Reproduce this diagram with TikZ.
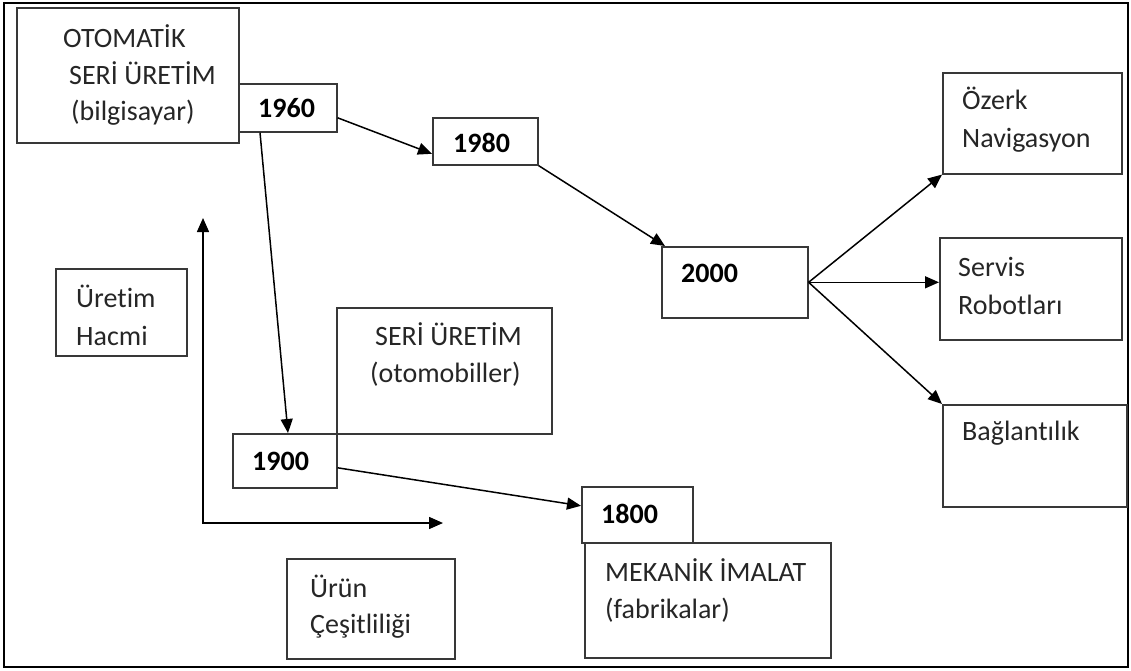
\documentclass[tikz,border=0pt]{standalone}
\usepackage{fontspec}
\setmainfont{Carlito}[Ligatures=NoCommon]
\usetikzlibrary{arrows.meta}
\begin{document}
\begin{tikzpicture}[x=1pt,y=-1pt,
  box/.style={draw=black!78, line width=1.6pt, fill=white, inner sep=0pt},
  txt/.style={anchor=base west, inner sep=0pt, text=black!85,
    font=\fontsize{28}{37}\selectfont},
  yr/.style={anchor=base west, inner sep=0pt, text=black,
    font=\fontsize{28}{37}\selectfont\bfseries},
  tip/.tip={Triangle[length=14pt,width=12pt]},
  arr/.style={draw=black, line width=1.5pt, -tip},
]
\useasboundingbox (0,0) rectangle (1131,671);
\draw[line width=2.5pt] (4,3) rectangle (1128,667);
% boxes
\node[box, anchor=north west, minimum width=98pt, minimum height=48pt] (b1960) at (238,83) {};
\node[box, anchor=north west, minimum width=222pt, minimum height=135pt] (oto) at (16,7) {};
\node[box, anchor=north west, minimum width=105pt, minimum height=47pt] (b1980) at (432,117) {};
\node[box, anchor=north west, minimum width=146pt, minimum height=71pt] (b2000) at (661,246) {};
\node[box, anchor=north west, minimum width=179pt, minimum height=101pt] (ozerk) at (942,72) {};
\node[box, anchor=north west, minimum width=182pt, minimum height=102pt] (servis) at (939,237) {};
\node[box, anchor=north west, minimum width=184pt, minimum height=102pt] (bag) at (942,404) {};
\node[box, anchor=north west, minimum width=131pt, minimum height=87pt] (uretim) at (55,268) {};
\node[box, anchor=north west, minimum width=215pt, minimum height=126pt] (seri) at (336,307) {};
\node[box, anchor=north west, minimum width=104pt, minimum height=54pt] (b1900) at (232,433) {};
\node[box, anchor=north west, minimum width=246pt, minimum height=115pt] (mek) at (584,542) {};
\node[box, anchor=north west, minimum width=111pt, minimum height=56pt] (b1800) at (581,486) {};
\node[box, anchor=north west, minimum width=168pt, minimum height=100pt] (urun) at (286,558) {};
% texts
\node[txt] (t1) at (63,48) {OTOMATİK};
\node[txt] (t2) at (69,85) {SERİ ÜRETİM};
\node[txt] (t3) at (71,121) {(bilgisayar)};
\node[yr] (y1960) at (258,118) {1960};
\node[yr] (y1980) at (453,153) {1980};
\node[yr] (y2000) at (681,282) {2000};
\node[txt] (t4) at (962,110) {Özerk};
\node[txt] (t5) at (962,148) {Navigasyon};
\node[txt] (t6) at (958,276) {Servis};
\node[txt] (t7) at (958,314) {Robotları};
\node[txt] (t8) at (962,440) {Bağlantılık};
\node[txt] (t9) at (76,307) {Üretim};
\node[txt] (t10) at (76,345) {Hacmi};
\node[txt] (t11) at (375,345) {SERİ ÜRETİM};
\node[txt] (t12) at (370,382) {(otomobiller)};
\node[yr] (y1900) at (252,470) {1900};
\node[yr] (y1800) at (601,523) {1800};
\node[txt] (t13) at (605,581) {MEKANİK İMALAT};
\node[txt] (t14) at (605,618) {(fabrikalar)};
\node[txt] (t15) at (310,597) {Ürün};
\node[txt] (t16) at (310,633) {Çeşitliliği};
% axes
\coordinate (axy) at (203,218);
\coordinate (axx) at (443,523);
\draw[arr, tip-tip] (axy) |- (axx);
% connectors
\draw[arr] ([xshift=22pt]b1960.south west) -- ([xshift=56pt]b1900.north west);
\draw[arr] ([yshift=-10pt]b1960.east) -- ([yshift=-12.5pt]b1980.west);
\draw[arr] (b1980.south east) -- ([xshift=4pt]b2000.north west);
\draw[arr] ([yshift=-7pt]b1900.east) -- ([yshift=9pt]b1800.west);
\draw[arr] (b2000.east) -- (ozerk.south west);
\draw[arr] (b2000.east) -- (b2000.east -| servis.west);
\draw[arr] (b2000.east) -- (bag.north west);
\end{tikzpicture}
\end{document}
